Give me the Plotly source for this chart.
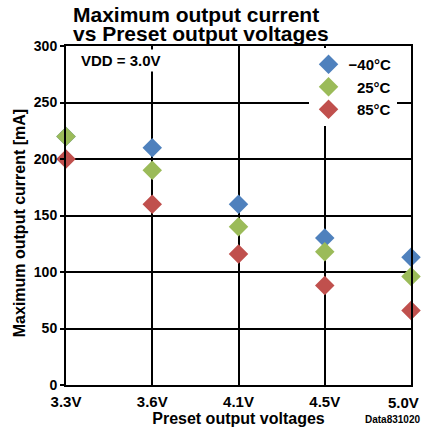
import plotly.graph_objects as go

# Preset output voltages (categories) and max output current per temperature [mA]
voltages = ["3.3V", "3.6V", "4.1V", "4.5V", "5.0V"]
current_m40 = [220, 210, 160, 130, 113]
current_25 = [220, 190, 140, 118, 96]
current_85 = [200, 160, 116, 88, 66]

y_ticks = [0, 50, 100, 150, 200, 250, 300]

# figure space keeps the positive temperatures aligned with "40" after the minus sign
series = [
    ("\u221240\u00b0C", current_m40, "#4F81BD"),
    ("\u200725\u00b0C", current_25, "#9BBB59"),
    ("\u200785\u00b0C", current_85, "#C0504D"),
]

fig = go.Figure()
xs = list(range(len(voltages)))
for name, vals, color in series:
    fig.add_trace(go.Scatter(
        x=xs, y=vals, name=name, mode="markers",
        marker=dict(symbol="diamond", size=15, color=color, line=dict(width=0)),
        cliponaxis=False,
    ))

font = dict(family="Arial, Liberation Sans, sans-serif", size=14, color="black", weight="bold")

# plot area in pixels: x 66..413, y 46..386
PW, PH = 347, 340

fig.update_layout(
    width=422, height=434,
    margin=dict(l=66, r=9, t=46, b=48),
    paper_bgcolor="white", plot_bgcolor="white",
    font=font,
    showlegend=True,
    legend=dict(
        x=0.703, y=0.994, xanchor="left", yanchor="top",
        bgcolor="white", borderwidth=0,
        font=dict(size=15, weight="bold"),
        itemwidth=30, tracegroupgap=0,
    ),
    xaxis=dict(
        range=[0, len(voltages) - 1],
        tickmode="array", tickvals=xs, ticktext=voltages,
        showgrid=True, gridcolor="black", gridwidth=2,
        showline=True, linecolor="black", linewidth=2, mirror=True,
        zeroline=False, ticks="", ticklen=0, ticklabelstandoff=2,
        title=dict(text="Preset output voltages", font=dict(size=16, weight="bold"), standoff=4),
        tickfont=dict(size=15, weight="bold"),
    ),
    yaxis=dict(
        range=[0, 300],
        tickmode="array", tickvals=y_ticks,
        showgrid=True, gridcolor="black", gridwidth=2,
        showline=True, linecolor="black", linewidth=2, mirror=True,
        zeroline=False, ticks="outside", ticklen=4, tickwidth=2, tickcolor="black",
        tickfont=dict(size=14, weight="bold"),
    ),
    annotations=[
        dict(text="Maximum output current", xref="paper", yref="paper",
             x=(72 - 66) / PW, y=1 + (46 - 2) / PH, xanchor="left", yanchor="top",
             showarrow=False, font=dict(size=21, weight="bold"), borderpad=0),
        dict(text="vs Preset output voltages", xref="paper", yref="paper",
             x=(72 - 66) / PW, y=1 + (46 - 21) / PH, xanchor="left", yanchor="top",
             showarrow=False, font=dict(size=21, weight="bold"), borderpad=0),
        dict(text="Maximum output current [mA]", xref="paper", yref="paper",
             x=(19.5 - 66) / PW, y=1 - (224 - 46) / PH, xanchor="center", yanchor="middle",
             textangle=-90, showarrow=False, font=dict(size=16, weight="bold")),
        dict(text="VDD = 3.0V", xref="paper", yref="paper",
             x=(78 - 66) / PW, y=1 - (49 - 46) / PH, xanchor="left", yanchor="top",
             showarrow=False, bgcolor="white", font=dict(size=15, weight="bold"), borderpad=2),
        # last category label sits flush against the right edge of the chart
        dict(text=voltages[-1], xref="x", yref="paper",
             x=xs[-1], y=-(394 - 386) / PH, xanchor="right", yanchor="top", xshift=9,
             showarrow=False, font=dict(size=15, weight="bold"), borderpad=0),
        dict(text="Data831020", xref="paper", yref="paper",
             x=(365 - 66) / PW, y=-(413 - 386) / PH, xanchor="left", yanchor="top",
             showarrow=False, font=dict(size=10, weight="bold")),
    ],
)

fig.write_html("out.html")
